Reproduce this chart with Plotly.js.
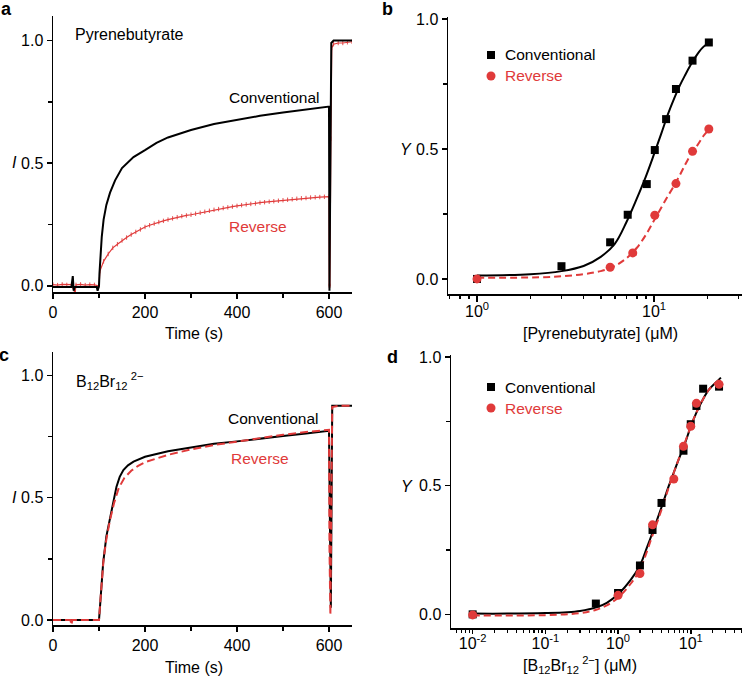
<!DOCTYPE html>
<html>
<head>
<meta charset="utf-8">
<script src="https://cdn.plot.ly/plotly-3.0.1.min.js"></script>
<style>html,body{margin:0;padding:0;background:#fff;}#chart{width:745px;height:681px;}</style>
</head>
<body>
<div id="chart"></div>
<script>
// ---------- DATA ----------
// Panel a: Pyrenebutyrate kinetics
const aConvT = [0, 40, 43, 45, 47, 50, 90, 95, 97, 99, 100, 101, 103, 106, 110, 116, 124, 135, 150, 175, 200, 225, 250, 275, 300, 350, 400, 450, 500, 550, 600, 600.5, 601, 603, 605, 610, 620, 650];
const aConvY = [-0.005, -0.005, 0.04, -0.02, -0.005, -0.005, -0.005, -0.005, -0.02, -0.005, 0.0, 0.05, 0.12, 0.2, 0.27, 0.33, 0.38, 0.43, 0.48, 0.525, 0.553, 0.583, 0.605, 0.62, 0.635, 0.66, 0.677, 0.693, 0.707, 0.72, 0.731, 0.4, -0.02, 0.5, 0.99, 1.0, 1.0, 1.0];
const aRevT = [0, 10, 20, 30, 40, 48, 50, 60, 70, 80, 90, 99, 100, 102, 110, 120, 130, 140, 150, 160, 170, 180, 190, 200, 210, 220, 230, 240, 250, 260, 270, 280, 290, 300, 310, 320, 330, 340, 350, 360, 370, 380, 390, 400, 410, 420, 430, 440, 450, 460, 470, 480, 490, 500, 510, 520, 530, 540, 550, 560, 570, 580, 590, 600, 600.5, 602, 604, 606, 610, 620, 630, 640, 650];
const aRevY = [0.005, 0.003, 0.006, 0.004, 0.005, -0.03, 0.004, 0.006, 0.003, 0.005, 0.004, 0.0, 0.0, 0.06, 0.1, 0.13, 0.155, 0.17, 0.185, 0.197, 0.209, 0.22, 0.23, 0.24, 0.247, 0.254, 0.26, 0.265, 0.27, 0.275, 0.28, 0.284, 0.287, 0.29, 0.294, 0.298, 0.302, 0.306, 0.31, 0.313, 0.317, 0.32, 0.323, 0.326, 0.329, 0.332, 0.334, 0.336, 0.339, 0.341, 0.343, 0.345, 0.347, 0.349, 0.351, 0.353, 0.355, 0.357, 0.358, 0.36, 0.361, 0.362, 0.363, 0.364, 0.0, 0.0, 0.6, 0.97, 0.985, 0.99, 0.99, 0.993, 0.995];

// Panel b: Pyrenebutyrate titration
const bConvX = [1, 3.0, 5.65, 7.1, 9.1, 10.1, 11.7, 13.3, 16.5, 20.4];
const bConvY = [0.0, 0.049, 0.141, 0.247, 0.365, 0.496, 0.615, 0.731, 0.840, 0.910];
const bRevX = [1, 5.65, 7.58, 10.1, 13.3, 16.5, 20.4];
const bRevY = [0.0, 0.045, 0.1, 0.245, 0.367, 0.491, 0.577];
const bConvFitX = [1, 2, 3, 4, 5, 6, 7, 8, 9, 10, 11, 12, 13, 14, 15, 16, 17, 18, 19, 20.4];
const bConvFitY = [0.013, 0.018, 0.03, 0.05, 0.085, 0.135, 0.22, 0.31, 0.395, 0.48, 0.56, 0.635, 0.695, 0.745, 0.785, 0.82, 0.85, 0.875, 0.893, 0.91];
const bRevFitX = [1, 3, 5, 6, 7, 8, 9, 10, 11, 12, 13, 14, 15, 16, 17, 18, 19, 20.4];
const bRevFitY = [0.005, 0.01, 0.03, 0.05, 0.08, 0.12, 0.17, 0.225, 0.275, 0.32, 0.36, 0.4, 0.44, 0.475, 0.5, 0.525, 0.55, 0.575];

// Panel c: B12Br12(2-) kinetics
const cConvT = [0, 98, 100, 102, 105, 109, 116, 122, 127, 133, 138, 145, 153, 163, 175, 200, 250, 300, 350, 400, 450, 500, 550, 600, 602, 604, 607, 620, 650];
const cConvY = [0.0, 0.0, 0.0, 0.05, 0.125, 0.233, 0.342, 0.40, 0.45, 0.50, 0.545, 0.585, 0.613, 0.632, 0.647, 0.667, 0.69, 0.705, 0.72, 0.73, 0.742, 0.752, 0.762, 0.773, 0.4, 0.05, 0.875, 0.875, 0.875];
const cRevT = [0, 38, 40, 42, 98, 100, 103, 106, 110, 116, 124, 133, 143, 155, 170, 185, 200, 250, 300, 350, 400, 450, 500, 550, 600, 601, 603, 607, 620, 650];
const cRevY = [0.0, 0.0, -0.02, 0.0, 0.0, 0.0, 0.08, 0.17, 0.25, 0.33, 0.41, 0.48, 0.54, 0.58, 0.61, 0.63, 0.645, 0.675, 0.697, 0.715, 0.73, 0.745, 0.757, 0.768, 0.777, 0.3, 0.02, 0.87, 0.875, 0.875];

// Panel d: B12Br12(2-) titration
const dConvX = [0.01, 0.495, 1.0, 2.0, 2.98, 3.96, 7.94, 10.0, 11.97, 14.8, 24.5];
const dConvY = [0.0, 0.042, 0.083, 0.19, 0.328, 0.433, 0.636, 0.739, 0.81, 0.877, 0.885];
const dRevX = [0.01, 1.0, 2.0, 2.98, 5.85, 7.94, 10.0, 11.97, 24.5];
const dRevY = [-0.002, 0.074, 0.159, 0.348, 0.526, 0.653, 0.731, 0.82, 0.894];
const dConvFitX = [0.01, 0.03, 0.1, 0.2, 0.3, 0.5, 0.7, 1, 1.5, 2, 2.5, 3, 4, 5, 6, 7, 8, 10, 12, 15, 18, 22, 26];
const dConvFitY = [0.003, 0.003, 0.005, 0.008, 0.013, 0.027, 0.045, 0.078, 0.135, 0.19, 0.26, 0.32, 0.42, 0.5, 0.56, 0.61, 0.65, 0.73, 0.785, 0.84, 0.875, 0.9, 0.92];
const dRevFitX = [0.01, 0.1, 0.3, 0.5, 0.7, 1, 1.5, 2, 3, 4, 5, 6, 8, 10, 12, 15, 18, 22, 26];
const dRevFitY = [-0.004, -0.003, 0.005, 0.018, 0.035, 0.065, 0.12, 0.175, 0.31, 0.41, 0.495, 0.56, 0.655, 0.73, 0.785, 0.84, 0.875, 0.9, 0.915];

const seriesNames = ['Conventional', 'Reverse'];
const logTicksB = [1, 10];
const logTickTextB = ['10<sup>0</sup>', '10<sup>1</sup>'];
const logTicksD = [0.01, 0.1, 1, 10];
const logTickTextD = ['10<sup>-2</sup>', '10<sup>-1</sup>', '10<sup>0</sup>', '10<sup>1</sup>'];
const linTicks = [0, 200, 400, 600];
const yTicks = [0, 0.5, 1.0];

// ---------- STYLE ----------
const RED = '#e03a3a';
const BLACK = '#000000';
const W = 745, H = 681;
const px = x => x / W;
const py = y => 1 - y / H;
const FONT = 'Arial, "Liberation Sans", sans-serif';

function minorLog(lo, hi) {
  const v = [];
  for (let e = lo; e <= hi; e++) for (let k = 2; k <= 9; k++) v.push(k * Math.pow(10, e));
  return v;
}

function axis(extra) {
  return Object.assign({
    showline: true, linecolor: BLACK, linewidth: 1.5,
    ticks: 'outside', ticklen: 5, tickwidth: 1.5, tickcolor: BLACK,
    showgrid: false, zeroline: false, mirror: false, fixedrange: true,
    tickfont: {size: 16, color: BLACK, family: FONT}
  }, extra);
}

const traces = [
  // a
  {x: aRevT, y: aRevY, xaxis: 'x', yaxis: 'y', mode: 'lines', line: {color: RED, width: 1.2},
   error_y: {type: 'constant', value: 0.009, color: RED, thickness: 0.9, width: 0}, showlegend: false},
  {x: aConvT, y: aConvY, xaxis: 'x', yaxis: 'y', mode: 'lines', line: {color: BLACK, width: 2}, showlegend: false},
  // b
  {x: bConvFitX, y: bConvFitY, xaxis: 'x2', yaxis: 'y2', mode: 'lines', line: {color: BLACK, width: 2, shape: 'spline'}, showlegend: false},
  {x: bRevFitX, y: bRevFitY, xaxis: 'x2', yaxis: 'y2', mode: 'lines', line: {color: RED, width: 2, dash: '7px,4px', shape: 'spline'}, showlegend: false},
  {x: bConvX, y: bConvY, xaxis: 'x2', yaxis: 'y2', mode: 'markers', marker: {symbol: 'square', size: 8, color: BLACK}, name: seriesNames[0], showlegend: false},
  {x: bRevX, y: bRevY, xaxis: 'x2', yaxis: 'y2', mode: 'markers', marker: {symbol: 'circle', size: 9, color: RED}, name: seriesNames[1], showlegend: false},
  // c
  {x: cConvT, y: cConvY, xaxis: 'x3', yaxis: 'y3', mode: 'lines', line: {color: BLACK, width: 2}, showlegend: false},
  {x: cRevT, y: cRevY, xaxis: 'x3', yaxis: 'y3', mode: 'lines', line: {color: RED, width: 2, dash: '8px,4px'}, showlegend: false},
  // d
  {x: dConvFitX, y: dConvFitY, xaxis: 'x4', yaxis: 'y4', mode: 'lines', line: {color: BLACK, width: 2, shape: 'spline'}, showlegend: false},
  {x: dRevFitX, y: dRevFitY, xaxis: 'x4', yaxis: 'y4', mode: 'lines', line: {color: RED, width: 2, dash: '7px,4px', shape: 'spline'}, showlegend: false},
  {x: dConvX, y: dConvY, xaxis: 'x4', yaxis: 'y4', mode: 'markers', marker: {symbol: 'square', size: 8, color: BLACK}, name: seriesNames[0], showlegend: false},
  {x: dRevX, y: dRevY, xaxis: 'x4', yaxis: 'y4', mode: 'markers', marker: {symbol: 'circle', size: 9, color: RED}, name: seriesNames[1], showlegend: false}
];

function ann(text, x, y, opts) {
  return Object.assign({text: text, x: px(x), y: py(y), xref: 'paper', yref: 'paper', showarrow: false,
    xanchor: 'center', yanchor: 'middle', font: {size: 16, color: BLACK, family: FONT}}, opts || {});
}
const small = c => ({size: 15.5, color: c, family: FONT});

const annotations = [
  ann('<b>a</b>', 6, 9, {font: {size: 18, color: BLACK, family: FONT}}),
  ann('<b>b</b>', 388, 9, {font: {size: 18, color: BLACK, family: FONT}}),
  ann('<b>c</b>', 4, 355, {font: {size: 18, color: BLACK, family: FONT}}),
  ann('<b>d</b>', 392, 357, {font: {size: 18, color: BLACK, family: FONT}}),
  ann('<i>I</i>', 15, 163),
  ann('<i>I</i>', 15, 497),
  ann('<i>Y</i>', 406, 150),
  ann('<i>Y</i>', 407, 486),
  ann('Time (s)', 194, 333),
  ann('Time (s)', 194, 667),
  ann('[Pyrenebutyrate] (μM)', 600, 333),
  ann('[B<sub>12</sub>Br<sub>12</sub><sup> 2−</sup>] (μM)', 580, 665),
  ann('Pyrenebutyrate', 73, 35, {xanchor: 'left'}),
  ann('Conventional', 227, 97, {xanchor: 'left', font: small(BLACK)}),
  ann('Reverse', 227, 227, {xanchor: 'left', font: small(RED)}),
  ann('B<sub>12</sub>Br<sub>12</sub><sup> 2−</sup>', 74, 381, {xanchor: 'left'}),
  ann('Conventional', 226, 418, {xanchor: 'left', font: small(BLACK)}),
  ann('Reverse', 229, 458, {xanchor: 'left', font: small(RED)}),
  // legends (b and d)
  ann(seriesNames[0], 503, 55, {xanchor: 'left', font: small(BLACK)}),
  ann(seriesNames[1], 503, 76, {xanchor: 'left', font: small(RED)}),
  ann(seriesNames[0], 503, 387, {xanchor: 'left', font: small(BLACK)}),
  ann(seriesNames[1], 503, 408, {xanchor: 'left', font: small(RED)})
];

function keySquare(cx, cy) {
  return {type: 'rect', xref: 'paper', yref: 'paper', x0: px(cx - 4), x1: px(cx + 4), y0: py(cy + 4), y1: py(cy - 4),
    fillcolor: BLACK, line: {width: 0}};
}
function keyCircle(cx, cy) {
  return {type: 'circle', xref: 'paper', yref: 'paper', x0: px(cx - 4.5), x1: px(cx + 4.5), y0: py(cy + 4.5), y1: py(cy - 4.5),
    fillcolor: RED, line: {width: 0}};
}

const minorLin = (d) => ({dtick: d, tick0: 0, ticklen: 4, tickwidth: 1.5, tickcolor: BLACK, ticks: 'outside'});

const layout = {
  width: W, height: H,
  margin: {l: 0, r: 0, t: 0, b: 0},
  paper_bgcolor: '#fff', plot_bgcolor: 'rgba(0,0,0,0)',
  font: {family: FONT, size: 16, color: BLACK},
  showlegend: false,
  xaxis: axis({domain: [px(53), px(352)], anchor: 'y', range: [0, 650], tickvals: linTicks, minor: minorLin(100)}),
  yaxis: axis({domain: [py(292), py(16)], anchor: 'x', range: [-0.025, 1.1], tickvals: yTicks, tickformat: '.1f', minor: minorLin(0.25)}),
  xaxis2: axis({domain: [px(448), px(742)], anchor: 'y2', type: 'log', range: [-0.164, 1.497],
    tickvals: logTicksB, ticktext: logTickTextB, ticklen: 6, ticklabelstandoff: -4,
    minor: {tickvals: [0.7, 0.8, 0.9].concat(minorLog(0, 0), [20, 30]), ticklen: 3.5, tickwidth: 1.5, tickcolor: BLACK, ticks: 'outside'}}),
  yaxis2: axis({domain: [py(294), py(17)], anchor: 'x2', range: [-0.058, 1.008], tickvals: yTicks, tickformat: '.1f', minor: minorLin(0.25)}),
  xaxis3: axis({domain: [px(53), px(352)], anchor: 'y3', range: [0, 650], tickvals: linTicks, minor: minorLin(100)}),
  yaxis3: axis({domain: [py(625), py(352)], anchor: 'x3', range: [-0.02, 1.095], tickvals: yTicks, tickformat: '.1f', minor: minorLin(0.25)}),
  xaxis4: axis({domain: [px(451), px(742)], anchor: 'y4', type: 'log', range: [-2.298, 1.705],
    tickvals: logTicksD, ticktext: logTickTextD, ticklen: 4, ticklabelstandoff: -4,
    minor: {tickvals: minorLog(-3, 1), ticklen: 3, tickwidth: 1.2, tickcolor: BLACK, ticks: 'outside'}}),
  yaxis4: axis({domain: [py(628), py(355)], anchor: 'x4', range: [-0.053, 1.008], tickvals: yTicks, tickformat: '.1f', minor: minorLin(0.25)}),
  annotations: annotations,
  shapes: [keySquare(491, 55), keyCircle(491, 76), keySquare(491, 387), keyCircle(491, 408)]
};

Plotly.newPlot('chart', traces, layout, {staticPlot: true, displayModeBar: false});
</script>
</body>
</html>
